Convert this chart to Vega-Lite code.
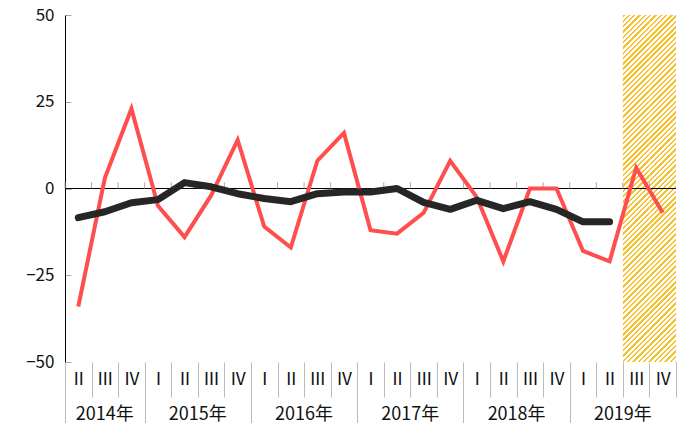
{
"$schema":"https://vega.github.io/schema/vega-lite/v6.json",
"width":611,"height":347,"autosize":"none",
"padding":{"left":65,"top":15,"right":12,"bottom":61},
"background":"white",
"config":{"view":{"stroke":null},"font":"Noto Sans CJK JP"},
"data":{"values":[
{"q":"2014-Ⅱ","a":-34,"b":-8.4,"f":false},
{"q":"2014-Ⅲ","a":3,"b":-6.7,"f":false},
{"q":"2014-Ⅳ","a":23,"b":-4.1,"f":false},
{"q":"2015-Ⅰ","a":-5,"b":-3.2,"f":false},
{"q":"2015-Ⅱ","a":-14,"b":1.7,"f":false},
{"q":"2015-Ⅲ","a":-2,"b":0.5,"f":false},
{"q":"2015-Ⅳ","a":14,"b":-1.5,"f":false},
{"q":"2016-Ⅰ","a":-11,"b":-2.9,"f":false},
{"q":"2016-Ⅱ","a":-17,"b":-3.8,"f":false},
{"q":"2016-Ⅲ","a":8,"b":-1.5,"f":false},
{"q":"2016-Ⅳ","a":16,"b":-1,"f":false},
{"q":"2017-Ⅰ","a":-12,"b":-1,"f":false},
{"q":"2017-Ⅱ","a":-13,"b":0,"f":false},
{"q":"2017-Ⅲ","a":-7,"b":-4,"f":false},
{"q":"2017-Ⅳ","a":8,"b":-6,"f":false},
{"q":"2018-Ⅰ","a":-2.5,"b":-3.4,"f":false},
{"q":"2018-Ⅱ","a":-21,"b":-5.8,"f":false},
{"q":"2018-Ⅲ","a":0,"b":-3.8,"f":false},
{"q":"2018-Ⅳ","a":0,"b":-6,"f":false},
{"q":"2019-Ⅰ","a":-18,"b":-9.6,"f":false},
{"q":"2019-Ⅱ","a":-21,"b":-9.6,"f":false},
{"q":"2019-Ⅲ","a":6,"b":null,"f":true},
{"q":"2019-Ⅳ","a":-7,"b":null,"f":true}
]},
"resolve":{"axis":{"x":"independent"}},
"layer":[
{"transform":[{"filter":"datum.f"}],
 "mark":{"type":"rect","stroke":null,"fill":{"gradient":"linear","x1":0,"y1":0,"x2":0.08194,"y2":1.07028,"stops":[
{"offset":0,"color":"#f5c332"},{"offset":0.0064,"color":"#f5c332"},{"offset":0.0064,"color":"#ffffff"},
{"offset":0.01422,"color":"#ffffff"},{"offset":0.01422,"color":"#f5c332"},{"offset":0.02062,"color":"#f5c332"},{"offset":0.02062,"color":"#ffffff"},
{"offset":0.02844,"color":"#ffffff"},{"offset":0.02844,"color":"#f5c332"},{"offset":0.03484,"color":"#f5c332"},{"offset":0.03484,"color":"#ffffff"},
{"offset":0.04267,"color":"#ffffff"},{"offset":0.04267,"color":"#f5c332"},{"offset":0.04907,"color":"#f5c332"},{"offset":0.04907,"color":"#ffffff"},
{"offset":0.05689,"color":"#ffffff"},{"offset":0.05689,"color":"#f5c332"},{"offset":0.06329,"color":"#f5c332"},{"offset":0.06329,"color":"#ffffff"},
{"offset":0.07111,"color":"#ffffff"},{"offset":0.07111,"color":"#f5c332"},{"offset":0.07751,"color":"#f5c332"},{"offset":0.07751,"color":"#ffffff"},
{"offset":0.08533,"color":"#ffffff"},{"offset":0.08533,"color":"#f5c332"},{"offset":0.09173,"color":"#f5c332"},{"offset":0.09173,"color":"#ffffff"},
{"offset":0.09955,"color":"#ffffff"},{"offset":0.09955,"color":"#f5c332"},{"offset":0.10595,"color":"#f5c332"},{"offset":0.10595,"color":"#ffffff"},
{"offset":0.11378,"color":"#ffffff"},{"offset":0.11378,"color":"#f5c332"},{"offset":0.12018,"color":"#f5c332"},{"offset":0.12018,"color":"#ffffff"},
{"offset":0.128,"color":"#ffffff"},{"offset":0.128,"color":"#f5c332"},{"offset":0.1344,"color":"#f5c332"},{"offset":0.1344,"color":"#ffffff"},
{"offset":0.14222,"color":"#ffffff"},{"offset":0.14222,"color":"#f5c332"},{"offset":0.14862,"color":"#f5c332"},{"offset":0.14862,"color":"#ffffff"},
{"offset":0.15644,"color":"#ffffff"},{"offset":0.15644,"color":"#f5c332"},{"offset":0.16284,"color":"#f5c332"},{"offset":0.16284,"color":"#ffffff"},
{"offset":0.17066,"color":"#ffffff"},{"offset":0.17066,"color":"#f5c332"},{"offset":0.17706,"color":"#f5c332"},{"offset":0.17706,"color":"#ffffff"},
{"offset":0.18489,"color":"#ffffff"},{"offset":0.18489,"color":"#f5c332"},{"offset":0.19129,"color":"#f5c332"},{"offset":0.19129,"color":"#ffffff"},
{"offset":0.19911,"color":"#ffffff"},{"offset":0.19911,"color":"#f5c332"},{"offset":0.20551,"color":"#f5c332"},{"offset":0.20551,"color":"#ffffff"},
{"offset":0.21333,"color":"#ffffff"},{"offset":0.21333,"color":"#f5c332"},{"offset":0.21973,"color":"#f5c332"},{"offset":0.21973,"color":"#ffffff"},
{"offset":0.22755,"color":"#ffffff"},{"offset":0.22755,"color":"#f5c332"},{"offset":0.23395,"color":"#f5c332"},{"offset":0.23395,"color":"#ffffff"},
{"offset":0.24177,"color":"#ffffff"},{"offset":0.24177,"color":"#f5c332"},{"offset":0.24817,"color":"#f5c332"},{"offset":0.24817,"color":"#ffffff"},
{"offset":0.256,"color":"#ffffff"},{"offset":0.256,"color":"#f5c332"},{"offset":0.2624,"color":"#f5c332"},{"offset":0.2624,"color":"#ffffff"},
{"offset":0.27022,"color":"#ffffff"},{"offset":0.27022,"color":"#f5c332"},{"offset":0.27662,"color":"#f5c332"},{"offset":0.27662,"color":"#ffffff"},
{"offset":0.28444,"color":"#ffffff"},{"offset":0.28444,"color":"#f5c332"},{"offset":0.29084,"color":"#f5c332"},{"offset":0.29084,"color":"#ffffff"},
{"offset":0.29866,"color":"#ffffff"},{"offset":0.29866,"color":"#f5c332"},{"offset":0.30506,"color":"#f5c332"},{"offset":0.30506,"color":"#ffffff"},
{"offset":0.31288,"color":"#ffffff"},{"offset":0.31288,"color":"#f5c332"},{"offset":0.31928,"color":"#f5c332"},{"offset":0.31928,"color":"#ffffff"},
{"offset":0.32711,"color":"#ffffff"},{"offset":0.32711,"color":"#f5c332"},{"offset":0.33351,"color":"#f5c332"},{"offset":0.33351,"color":"#ffffff"},
{"offset":0.34133,"color":"#ffffff"},{"offset":0.34133,"color":"#f5c332"},{"offset":0.34773,"color":"#f5c332"},{"offset":0.34773,"color":"#ffffff"},
{"offset":0.35555,"color":"#ffffff"},{"offset":0.35555,"color":"#f5c332"},{"offset":0.36195,"color":"#f5c332"},{"offset":0.36195,"color":"#ffffff"},
{"offset":0.36977,"color":"#ffffff"},{"offset":0.36977,"color":"#f5c332"},{"offset":0.37617,"color":"#f5c332"},{"offset":0.37617,"color":"#ffffff"},
{"offset":0.38399,"color":"#ffffff"},{"offset":0.38399,"color":"#f5c332"},{"offset":0.39039,"color":"#f5c332"},{"offset":0.39039,"color":"#ffffff"},
{"offset":0.39822,"color":"#ffffff"},{"offset":0.39822,"color":"#f5c332"},{"offset":0.40462,"color":"#f5c332"},{"offset":0.40462,"color":"#ffffff"},
{"offset":0.41244,"color":"#ffffff"},{"offset":0.41244,"color":"#f5c332"},{"offset":0.41884,"color":"#f5c332"},{"offset":0.41884,"color":"#ffffff"},
{"offset":0.42666,"color":"#ffffff"},{"offset":0.42666,"color":"#f5c332"},{"offset":0.43306,"color":"#f5c332"},{"offset":0.43306,"color":"#ffffff"},
{"offset":0.44088,"color":"#ffffff"},{"offset":0.44088,"color":"#f5c332"},{"offset":0.44728,"color":"#f5c332"},{"offset":0.44728,"color":"#ffffff"},
{"offset":0.4551,"color":"#ffffff"},{"offset":0.4551,"color":"#f5c332"},{"offset":0.4615,"color":"#f5c332"},{"offset":0.4615,"color":"#ffffff"},
{"offset":0.46933,"color":"#ffffff"},{"offset":0.46933,"color":"#f5c332"},{"offset":0.47573,"color":"#f5c332"},{"offset":0.47573,"color":"#ffffff"},
{"offset":0.48355,"color":"#ffffff"},{"offset":0.48355,"color":"#f5c332"},{"offset":0.48995,"color":"#f5c332"},{"offset":0.48995,"color":"#ffffff"},
{"offset":0.49777,"color":"#ffffff"},{"offset":0.49777,"color":"#f5c332"},{"offset":0.50417,"color":"#f5c332"},{"offset":0.50417,"color":"#ffffff"},
{"offset":0.51199,"color":"#ffffff"},{"offset":0.51199,"color":"#f5c332"},{"offset":0.51839,"color":"#f5c332"},{"offset":0.51839,"color":"#ffffff"},
{"offset":0.52621,"color":"#ffffff"},{"offset":0.52621,"color":"#f5c332"},{"offset":0.53261,"color":"#f5c332"},{"offset":0.53261,"color":"#ffffff"},
{"offset":0.54044,"color":"#ffffff"},{"offset":0.54044,"color":"#f5c332"},{"offset":0.54684,"color":"#f5c332"},{"offset":0.54684,"color":"#ffffff"},
{"offset":0.55466,"color":"#ffffff"},{"offset":0.55466,"color":"#f5c332"},{"offset":0.56106,"color":"#f5c332"},{"offset":0.56106,"color":"#ffffff"},
{"offset":0.56888,"color":"#ffffff"},{"offset":0.56888,"color":"#f5c332"},{"offset":0.57528,"color":"#f5c332"},{"offset":0.57528,"color":"#ffffff"},
{"offset":0.5831,"color":"#ffffff"},{"offset":0.5831,"color":"#f5c332"},{"offset":0.5895,"color":"#f5c332"},{"offset":0.5895,"color":"#ffffff"},
{"offset":0.59732,"color":"#ffffff"},{"offset":0.59732,"color":"#f5c332"},{"offset":0.60372,"color":"#f5c332"},{"offset":0.60372,"color":"#ffffff"},
{"offset":0.61155,"color":"#ffffff"},{"offset":0.61155,"color":"#f5c332"},{"offset":0.61795,"color":"#f5c332"},{"offset":0.61795,"color":"#ffffff"},
{"offset":0.62577,"color":"#ffffff"},{"offset":0.62577,"color":"#f5c332"},{"offset":0.63217,"color":"#f5c332"},{"offset":0.63217,"color":"#ffffff"},
{"offset":0.63999,"color":"#ffffff"},{"offset":0.63999,"color":"#f5c332"},{"offset":0.64639,"color":"#f5c332"},{"offset":0.64639,"color":"#ffffff"},
{"offset":0.65421,"color":"#ffffff"},{"offset":0.65421,"color":"#f5c332"},{"offset":0.66061,"color":"#f5c332"},{"offset":0.66061,"color":"#ffffff"},
{"offset":0.66843,"color":"#ffffff"},{"offset":0.66843,"color":"#f5c332"},{"offset":0.67483,"color":"#f5c332"},{"offset":0.67483,"color":"#ffffff"},
{"offset":0.68266,"color":"#ffffff"},{"offset":0.68266,"color":"#f5c332"},{"offset":0.68906,"color":"#f5c332"},{"offset":0.68906,"color":"#ffffff"},
{"offset":0.69688,"color":"#ffffff"},{"offset":0.69688,"color":"#f5c332"},{"offset":0.70328,"color":"#f5c332"},{"offset":0.70328,"color":"#ffffff"},
{"offset":0.7111,"color":"#ffffff"},{"offset":0.7111,"color":"#f5c332"},{"offset":0.7175,"color":"#f5c332"},{"offset":0.7175,"color":"#ffffff"},
{"offset":0.72532,"color":"#ffffff"},{"offset":0.72532,"color":"#f5c332"},{"offset":0.73172,"color":"#f5c332"},{"offset":0.73172,"color":"#ffffff"},
{"offset":0.73954,"color":"#ffffff"},{"offset":0.73954,"color":"#f5c332"},{"offset":0.74594,"color":"#f5c332"},{"offset":0.74594,"color":"#ffffff"},
{"offset":0.75377,"color":"#ffffff"},{"offset":0.75377,"color":"#f5c332"},{"offset":0.76017,"color":"#f5c332"},{"offset":0.76017,"color":"#ffffff"},
{"offset":0.76799,"color":"#ffffff"},{"offset":0.76799,"color":"#f5c332"},{"offset":0.77439,"color":"#f5c332"},{"offset":0.77439,"color":"#ffffff"},
{"offset":0.78221,"color":"#ffffff"},{"offset":0.78221,"color":"#f5c332"},{"offset":0.78861,"color":"#f5c332"},{"offset":0.78861,"color":"#ffffff"},
{"offset":0.79643,"color":"#ffffff"},{"offset":0.79643,"color":"#f5c332"},{"offset":0.80283,"color":"#f5c332"},{"offset":0.80283,"color":"#ffffff"},
{"offset":0.81065,"color":"#ffffff"},{"offset":0.81065,"color":"#f5c332"},{"offset":0.81705,"color":"#f5c332"},{"offset":0.81705,"color":"#ffffff"},
{"offset":0.82488,"color":"#ffffff"},{"offset":0.82488,"color":"#f5c332"},{"offset":0.83128,"color":"#f5c332"},{"offset":0.83128,"color":"#ffffff"},
{"offset":0.8391,"color":"#ffffff"},{"offset":0.8391,"color":"#f5c332"},{"offset":0.8455,"color":"#f5c332"},{"offset":0.8455,"color":"#ffffff"},
{"offset":0.85332,"color":"#ffffff"},{"offset":0.85332,"color":"#f5c332"},{"offset":0.85972,"color":"#f5c332"},{"offset":0.85972,"color":"#ffffff"},
{"offset":0.86754,"color":"#ffffff"},{"offset":0.86754,"color":"#f5c332"},{"offset":0.87394,"color":"#f5c332"},{"offset":0.87394,"color":"#ffffff"},
{"offset":0.88176,"color":"#ffffff"},{"offset":0.88176,"color":"#f5c332"},{"offset":0.88816,"color":"#f5c332"},{"offset":0.88816,"color":"#ffffff"},
{"offset":0.89599,"color":"#ffffff"},{"offset":0.89599,"color":"#f5c332"},{"offset":0.90239,"color":"#f5c332"},{"offset":0.90239,"color":"#ffffff"},
{"offset":0.91021,"color":"#ffffff"},{"offset":0.91021,"color":"#f5c332"},{"offset":0.91661,"color":"#f5c332"},{"offset":0.91661,"color":"#ffffff"},
{"offset":0.92443,"color":"#ffffff"},{"offset":0.92443,"color":"#f5c332"},{"offset":0.93083,"color":"#f5c332"},{"offset":0.93083,"color":"#ffffff"},
{"offset":0.93865,"color":"#ffffff"},{"offset":0.93865,"color":"#f5c332"},{"offset":0.94505,"color":"#f5c332"},{"offset":0.94505,"color":"#ffffff"},
{"offset":0.95287,"color":"#ffffff"},{"offset":0.95287,"color":"#f5c332"},{"offset":0.95927,"color":"#f5c332"},{"offset":0.95927,"color":"#ffffff"},
{"offset":0.9671,"color":"#ffffff"},{"offset":0.9671,"color":"#f5c332"},{"offset":0.9735,"color":"#f5c332"},{"offset":0.9735,"color":"#ffffff"},
{"offset":0.98132,"color":"#ffffff"},{"offset":0.98132,"color":"#f5c332"},{"offset":0.98772,"color":"#f5c332"},{"offset":0.98772,"color":"#ffffff"},
{"offset":0.99554,"color":"#ffffff"},{"offset":0.99554,"color":"#f5c332"},{"offset":1,"color":"#f5c332"}
]}},
 "encoding":{
  "x":{"field":"q","type":"ordinal","scale":{"paddingInner":0,"paddingOuter":0},
   "axis":{"orient":"bottom","values":["2014-Ⅱ","2015-Ⅰ","2016-Ⅰ","2017-Ⅰ","2018-Ⅰ","2019-Ⅰ"],"labels":false,"ticks":true,"tickSize":61,"tickOffset":-13.28,
    "tickColor":"#bbbbbb","tickWidth":1,"domain":false,"grid":false,"title":null}},
  "y":{"datum":50,"type":"quantitative","scale":{"domain":[-50,50],"nice":false},
   "axis":{"values":[-50,-25,0,25,50],"title":null,"grid":false,"domainColor":"#000000","domainWidth":1,"tickColor":"#aaaaaa","tickSize":-6,
    "labelFontSize":17,"labelColor":"#111111","labelPadding":17,"labelFont":"Noto Sans CJK JP"}},
  "y2":{"datum":-50}
 }},
{"mark":{"type":"rule","color":"#000000","strokeWidth":1.2},
 "encoding":{"y":{"datum":0,"type":"quantitative","scale":{"domain":[-50,50],"nice":false},
   "axis":{"values":[-50,-25,0,25,50],"title":null,"grid":false,"domainColor":"#000000","domainWidth":1,"tickColor":"#aaaaaa","tickSize":-6,
    "labelFontSize":17,"labelColor":"#111111","labelPadding":17,"labelFont":"Noto Sans CJK JP"}}}},
{"mark":{"type":"rule","color":"#aaaaaa","strokeWidth":1},
 "encoding":{
  "x":{"field":"q","type":"ordinal","bandPosition":0,"scale":{"paddingInner":0,"paddingOuter":0},
   "axis":{"orient":"bottom","values":["2015-Ⅲ","2016-Ⅲ","2017-Ⅲ","2018-Ⅲ","2019-Ⅲ"],"labelOffset":-13.28,
    "labelExpr":"split(datum.value,'-')[0]+'年'","ticks":false,"tickSize":0,"domain":false,"grid":false,
    "labelPadding":43,"labelFontSize":18,"labelColor":"#111111","title":null,"labelAngle":0,"labelOverlap":false,"labelFont":"Noto Sans CJK JP"}},
  "y":{"datum":0,"type":"quantitative","scale":{"domain":[-50,50],"nice":false},
   "axis":{"values":[-50,-25,0,25,50],"title":null,"grid":false,"domainColor":"#000000","domainWidth":1,"tickColor":"#aaaaaa","tickSize":-6,
    "labelFontSize":17,"labelColor":"#111111","labelPadding":17,"labelFont":"Noto Sans CJK JP"}},
  "y2":{"datum":1.8}
 }},
{"mark":{"type":"line","color":"#fe4e4e","strokeWidth":4,"strokeJoin":"miter"},
 "encoding":{
  "x":{"field":"q","type":"ordinal","scale":{"paddingInner":0,"paddingOuter":0},
   "axis":{"orient":"bottom","tickBand":"extent","domain":false,"ticks":true,"tickColor":"#bbbbbb","tickWidth":1,
    "tickSize":35,
    "labelExpr":"split(datum.value,'-')[1]","labelPadding":-26,"labelFontSize":17,"labelColor":"#111111","labelAngle":0,
    "labelOverlap":false,"title":null,"grid":false,"labelFont":"Noto Sans CJK JP"}},
  "y":{"field":"a","type":"quantitative","scale":{"domain":[-50,50],"nice":false},
   "axis":{"values":[-50,-25,0,25,50],"title":null,"grid":false,"domainColor":"#000000","domainWidth":1,"tickColor":"#aaaaaa","tickSize":-6,
    "labelFontSize":17,"labelColor":"#111111","labelPadding":17,"labelFont":"Noto Sans CJK JP"}}
 }},
{"mark":{"type":"line","color":"#262626","strokeWidth":7,"strokeCap":"round","strokeJoin":"round"},
 "encoding":{
  "x":{"field":"q","type":"ordinal","scale":{"paddingInner":0,"paddingOuter":0},
   "axis":{"orient":"bottom","values":["2014-Ⅲ"],
    "labelExpr":"split(datum.value,'-')[0]+'年'","ticks":false,"tickSize":0,"domain":false,"grid":false,
    "labelPadding":43,"labelFontSize":18,"labelColor":"#111111","title":null,"labelAngle":0,"labelOverlap":false,"labelFont":"Noto Sans CJK JP"}},
  "y":{"field":"b","type":"quantitative","scale":{"domain":[-50,50],"nice":false},
   "axis":{"values":[-50,-25,0,25,50],"title":null,"grid":false,"domainColor":"#000000","domainWidth":1,"tickColor":"#aaaaaa","tickSize":-6,
    "labelFontSize":17,"labelColor":"#111111","labelPadding":17,"labelFont":"Noto Sans CJK JP"}}
 }}
]
}
